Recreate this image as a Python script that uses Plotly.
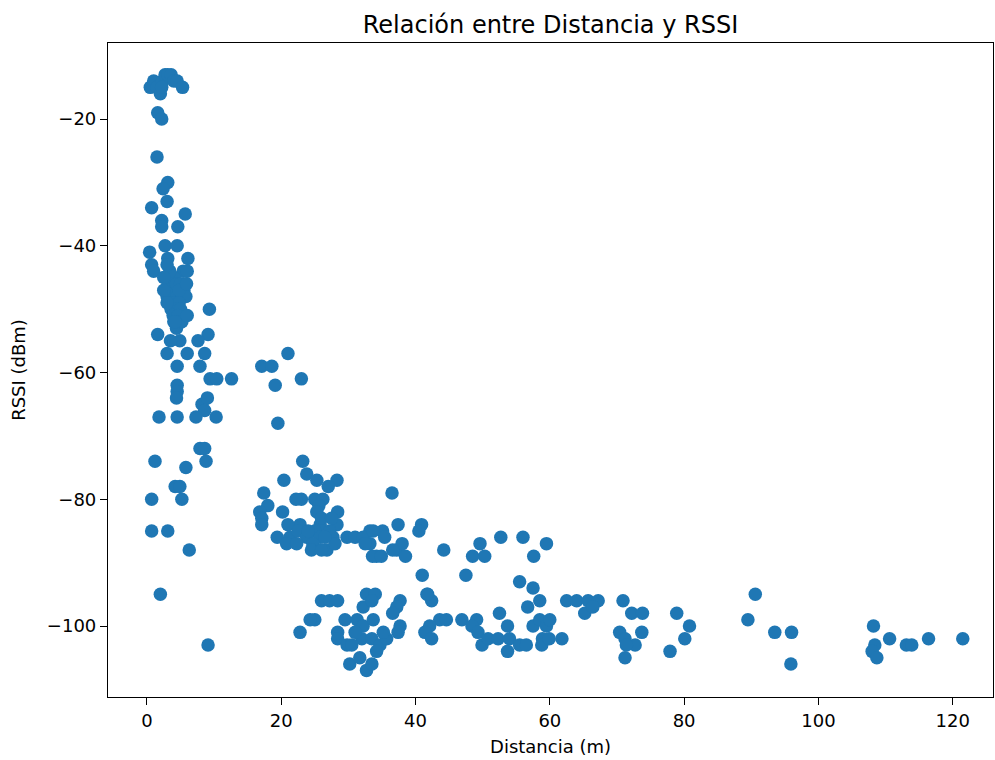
import plotly.graph_objects as go

# Data: (distance in m, RSSI in dBm)
distancia = [
    0.5, 1.0, 1.5, 2.0, 2.3, 2.7, 3.1, 3.6, 4.0, 4.5, 5.3, 2.2,
    1.6, 2.2, 1.5, 3.1, 2.4,
    0.7, 3.0, 5.7, 2.2, 2.2, 4.6, 2.7, 4.5, 0.4, 3.1, 6.1, 0.7, 1.0, 5.4,
    2.8, 3.2, 3.5, 4.0, 4.4, 5.0, 5.5, 3.0, 3.8, 4.5, 5.2, 5.8, 3.3, 4.1, 4.8, 3.6, 4.3, 5.0, 3.9, 4.6,
    4.0, 4.4, 6.0, 2.5, 3.4, 4.8, 5.2, 3.0, 2.5, 5.9,
    9.3, 3.0, 6.0, 4.2, 1.6, 9.1, 4.9, 7.6, 3.5, 3.0, 6.0, 8.6, 4.5, 7.9, 9.4, 10.4, 12.6, 4.5, 4.5,
    8.2, 9.0, 8.6, 4.4, 1.8, 4.5, 7.3, 10.3,
    7.9, 8.6, 8.8, 1.2, 5.8, 4.2, 4.9, 0.7, 5.2, 0.7, 3.1, 6.3, 2.0, 9.1,
    21.0, 17.1, 18.6, 19.1, 23.0, 19.5, 23.2, 23.8, 25.3, 28.3, 20.4, 27.0, 17.4, 23.0, 22.2, 25.0,
    26.2, 18.0, 25.6, 20.2, 16.8, 28.4, 25.3, 17.1, 28.3, 22.8, 25.8, 17.1, 21.0, 25.0, 27.2, 19.4,
    21.3, 22.5, 23.8, 25.8, 27.7, 29.8, 31.0, 33.2, 35.1, 35.4, 36.5, 37.4, 37.2, 33.2, 34.2, 20.8,
    22.3, 24.7, 26.8, 28.0, 32.2, 26.0, 24.0, 26.5, 27.5, 24.5, 26.0,
    40.9, 40.5, 33.7, 38.0, 32.5, 36.6, 33.6, 34.9, 38.5, 44.2, 49.6, 48.5, 50.3, 52.7, 56.0, 57.6,
    59.5, 41.0, 47.5,
    41.8, 42.4, 55.5, 57.5, 58.5, 56.7, 52.5, 53.7, 46.9, 49.1, 48.4, 49.3, 43.6, 44.6, 42.1, 41.4,
    42.4, 49.9, 50.8, 52.3, 54.0, 53.7, 55.5, 56.5, 57.5, 58.5, 59.5, 60.0, 58.9, 58.8, 59.9, 61.8,
    37.7, 37.7,
    62.5, 64.0, 65.7, 67.2, 65.2, 66.4, 70.9, 72.2, 73.8, 78.9, 80.8, 80.1, 77.9, 73.7, 72.7, 70.4,
    71.2, 71.4, 71.2, 90.6, 89.5, 93.5, 96.0, 95.9, 108.2, 110.6, 108.4, 108.0, 108.7, 113.1, 113.9,
    116.4, 121.5,
    22.8, 25.0, 26.0, 27.2, 28.4, 24.3, 28.4, 29.5, 28.4, 29.8, 31.3, 32.7, 34.0, 32.2, 33.5, 32.2,
    33.7, 32.0, 33.5, 34.7, 34.2, 30.2, 31.7, 32.7, 33.5, 35.7, 37.2, 36.6, 37.4, 41.7, 30.5, 35.2,
    31.0,
]

rssi = [
    -15, -14, -15, -16, -14, -13, -13, -13, -14, -14, -15, -15,
    -19, -20, -26, -30, -31,
    -34, -33, -35, -36, -37, -37, -40, -40, -41, -42, -42, -43, -44, -44,
    -45, -46, -47, -45, -46, -46, -47, -48, -48, -48, -48, -48, -49, -49, -49, -50, -50, -50, -51, -51,
    -52, -53, -44, -47, -44, -47, -52, -43, -45, -46,
    -50, -49, -51, -52, -54, -54, -55, -55, -55, -57, -57, -57, -59, -59, -61, -61, -61, -62, -63,
    -65, -64, -66, -64, -67, -67, -67, -67,
    -72, -72, -74, -74, -75, -78, -78, -80, -80, -85, -85, -88, -95, -103,
    -57, -59, -59, -62, -61, -68, -74, -76, -77, -77, -77, -78, -79, -80, -80, -80,
    -80, -81, -81, -82, -82, -82, -82, -83, -84, -84, -84, -84, -84, -85, -85, -86,
    -86, -85, -86, -86, -86, -86, -86, -85, -85, -86, -79, -84, -88, -87, -89, -87,
    -87, -87, -88, -87, -86, -83, -85, -86, -83, -88, -88,
    -84, -85, -85, -87, -87, -88, -89, -89, -89, -88, -87, -89, -89, -86, -86, -89,
    -87, -92, -92,
    -95, -96, -93, -94, -96, -97, -98, -100, -99, -99, -100, -101, -99, -99, -100, -101,
    -102, -103, -102, -102, -102, -104, -103, -103, -100, -99, -100, -99, -102, -103, -102, -102,
    -100, -96,
    -96, -96, -96, -96, -98, -97, -96, -98, -98, -98, -100, -102, -104, -101, -103, -101,
    -102, -103, -105, -95, -99, -101, -101, -106, -100, -102, -103, -104, -105, -103, -103,
    -102, -102,
    -101, -99, -96, -96, -96, -99, -101, -99, -102, -103, -99, -95, -95, -97, -96, -100,
    -99, -102, -102, -103, -104, -106, -105, -107, -106, -102, -97, -98, -101, -95, -103, -101,
    -101,
]

x_ticks = [0, 20, 40, 60, 80, 100, 120]
y_ticks = [-20, -40, -60, -80, -100]
y_tick_labels = ["\u221220", "\u221240", "\u221260", "\u221280", "\u2212100"]

fig = go.Figure(
    go.Scatter(
        x=distancia,
        y=rssi,
        mode="markers",
        marker=dict(color="#1f77b4", size=13.5, line=dict(width=0)),
        hoverinfo="x+y",
    )
)

axis_common = dict(
    showgrid=False,
    zeroline=False,
    showline=True,
    linecolor="black",
    linewidth=1.2,
    mirror=True,
    ticks="outside",
    ticklen=7,
    tickwidth=1.2,
    tickcolor="black",
    tickfont=dict(family="DejaVu Sans", size=18, color="black"),
)

fig.update_layout(
    width=995,
    height=760,
    margin=dict(l=108, r=2, t=43, b=63),
    paper_bgcolor="white",
    plot_bgcolor="white",
    showlegend=False,
    font=dict(family="DejaVu Sans", color="black"),
    title=dict(
        text="Relación entre Distancia y RSSI",
        x=0.5,
        xref="paper",
        xanchor="center",
        y=1 - 25 / 760,
        yref="container",
        yanchor="middle",
        font=dict(family="DejaVu Sans", size=24, color="black"),
    ),
    xaxis=dict(
        axis_common,
        range=[-5.8, 126.0],
        tickvals=x_ticks,
        title=dict(text="Distancia (m)", font=dict(family="DejaVu Sans", size=18), standoff=10),
    ),
    yaxis=dict(
        axis_common,
        range=[-111.2, -8.0],
        tickvals=y_ticks,
        ticktext=y_tick_labels,
        title=dict(text="RSSI (dBm)", font=dict(family="DejaVu Sans", size=18), standoff=16),
    ),
)

# Remove the browser's default 8px body margin so the figure fills the window exactly.
fig.write_html(
    "out.html",
    config={"displayModeBar": False},
    post_script="document.body.style.margin='0';document.body.style.overflow='hidden';",
)
